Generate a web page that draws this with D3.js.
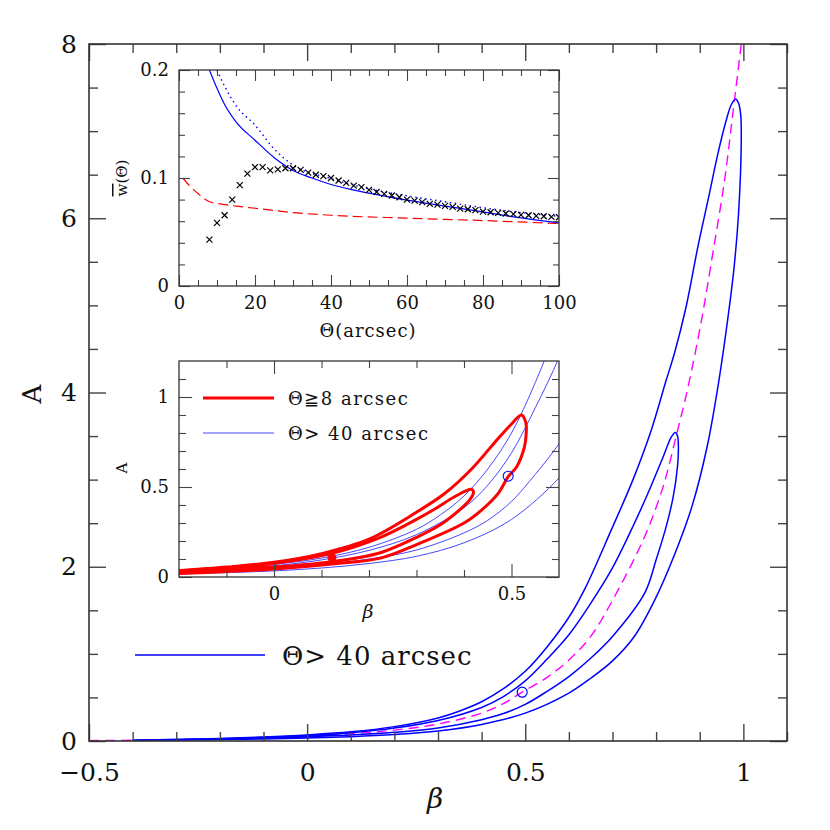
<!DOCTYPE html>
<html>
<head>
<meta charset="utf-8">
<script src="https://cdn.jsdelivr.net/npm/d3@7"></script>
<style>
body { margin: 0; background: #fff; }
text { font-family: "DejaVu Serif", serif; fill: #111; }
</style>
</head>
<body>
<div id="container"></div>
<script>
/* DATA */
// main panel: blue contours (Theta > 40 arcsec), [beta, A]
const outerUpper = [[-0.4,0.01],[-0.3,0.018],[-0.2,0.03],[-0.1,0.046],[0,0.07],[0.1,0.105],[0.2,0.165],[0.3,0.265],[0.35,0.345],[0.4,0.45],[0.45,0.6],[0.5,0.8],[0.55,1.08],[0.6,1.42],[0.636,1.74],[0.697,2.42],[0.747,3.0],[0.789,3.57],[0.823,4.14],[0.842,4.45],[0.869,4.99],[0.896,5.68],[0.919,6.21],[0.942,6.75],[0.961,7.13],[0.972,7.3],[0.982,7.37]];
const outerLower = [[0.989,7.32],[0.994,7.18],[0.995,6.82],[0.989,6.06],[0.979,5.45],[0.966,4.91],[0.944,4.14],[0.917,3.38],[0.882,2.69],[0.843,2.15],[0.797,1.62],[0.75,1.2],[0.7,0.92],[0.65,0.72],[0.6,0.55],[0.5,0.32],[0.4,0.19],[0.3,0.115],[0.2,0.075],[0.1,0.05],[0,0.034],[-0.1,0.024],[-0.2,0.017],[-0.3,0.012],[-0.4,0.01]];
const innerUpper = [[-0.4,0.01],[-0.3,0.016],[-0.2,0.026],[-0.1,0.04],[0,0.062],[0.1,0.095],[0.2,0.148],[0.3,0.235],[0.4,0.385],[0.45,0.51],[0.5,0.69],[0.55,0.94],[0.6,1.22],[0.65,1.58],[0.697,1.96],[0.739,2.38],[0.781,2.84],[0.816,3.26],[0.835,3.49],[0.844,3.54]];
const innerLower = [[0.849,3.5],[0.851,3.4],[0.849,3.15],[0.839,2.8],[0.823,2.46],[0.8,2.08],[0.774,1.7],[0.7,1.2],[0.65,0.95],[0.6,0.74],[0.55,0.57],[0.5,0.42],[0.45,0.315],[0.4,0.245],[0.3,0.15],[0.2,0.1],[0.1,0.068],[0,0.047],[-0.1,0.032],[-0.2,0.021],[-0.3,0.014],[-0.4,0.01]];
const centreLine = [[-0.5,0.004],[-0.4,0.009],[-0.3,0.015],[-0.2,0.024],[-0.1,0.037],[0,0.054],[0.1,0.082],[0.2,0.125],[0.3,0.195],[0.4,0.32],[0.45,0.43],[0.493,0.56],[0.55,0.73],[0.6,0.93],[0.65,1.2],[0.705,1.66],[0.774,2.35],[0.816,2.92],[0.846,3.5],[0.873,4.06],[0.904,4.83],[0.93,5.6],[0.957,6.44],[0.976,7.21],[0.995,7.99]];
const bestFit = [0.493, 0.56];

// lower inset: red contours (Theta >= 8 arcsec)
const redOuterUpper = [[-0.2,0.035],[-0.1,0.055],[0,0.082],[0.1,0.13],[0.2,0.21],[0.3,0.36],[0.36,0.465],[0.416,0.6],[0.472,0.77],[0.5,0.85],[0.521,0.9]];
const redOuterLower = [[0.53,0.86],[0.531,0.8],[0.527,0.72],[0.511,0.613],[0.493,0.557],[0.472,0.465],[0.437,0.372],[0.4,0.3],[0.3,0.18],[0.224,0.105],[0.122,0.072],[0,0.045],[-0.1,0.03],[-0.2,0.02]];
const redInnerUpper = [[-0.2,0.03],[-0.1,0.05],[0,0.075],[0.122,0.131],[0.224,0.22],[0.3,0.32],[0.342,0.383],[0.38,0.446],[0.416,0.487]];
const redInnerLower = [[0.42,0.47],[0.412,0.428],[0.395,0.383],[0.35,0.29],[0.3,0.22],[0.224,0.135],[0.122,0.085],[0,0.055],[-0.1,0.037],[-0.2,0.025]];
const redFit = [0.122, 0.107];

// upper inset: w(Theta)
const crossTheta = [8,10,12,14,16,18,20,22,24,26,28,30,32,34,36,38,40,42,44,46,48,50,52,54,56,58,60,62,64,66,68,70,72,74,76,78,80,82,84,86,88,90,92,94,96,98,100];
const crossW = [0.043,0.0584,0.0655,0.08,0.0934,0.104,0.11,0.11,0.107,0.108,0.109,0.109,0.1075,0.105,0.103,0.1017,0.1,0.0977,0.0955,0.093,0.0915,0.089,0.087,0.0853,0.0838,0.0822,0.08,0.079,0.0776,0.076,0.0754,0.0742,0.0733,0.0717,0.0711,0.0702,0.0689,0.0683,0.0677,0.0671,0.0665,0.0658,0.0655,0.0649,0.0646,0.064,0.0637];
const solidTheta = [8,10,12,15,20,25,30,35,40,50,60,70,80,90,100];
const solidW = [0.2,0.183,0.168,0.152,0.135,0.119,0.107,0.1,0.094,0.086,0.0795,0.074,0.0686,0.063,0.0584];
const dottedTheta = [10,12,15,20,25,30,40,50,60,70,80,90,100];
const dottedW = [0.2,0.185,0.167,0.149,0.127,0.112,0.0995,0.09,0.0835,0.078,0.0725,0.068,0.0645];
const dashTheta = [1,3,5,8,10,15,20,30,40,60,80,100];
const dashW = [0.1,0.092,0.0856,0.078,0.0765,0.074,0.072,0.068,0.0655,0.0628,0.0606,0.0578];

// ticks
const mainXMajor = [-0.5,0,0.5,1];
const mainXMinor = [-0.4,-0.3,-0.2,-0.1,0.1,0.2,0.3,0.4,0.6,0.7,0.8,0.9,1.1];
const mainYMajor = [0,2,4,6,8];
const mainYMinor = [0.5,1,1.5,2.5,3,3.5,4.5,5,5.5,6.5,7,7.5];
const topXMajor = [0,20,40,60,80,100];
const topXMinor = [5,10,15,25,30,35,45,50,55,65,70,75,85,90,95];
const topYMajor = [0,0.1,0.2];
const topYMinor = [0.02,0.04,0.06,0.08,0.12,0.14,0.16,0.18];
const lowXMajor = [0,0.5];
const lowXMinor = [-0.1,0.1,0.2,0.3,0.4];
const lowYMajor = [0,0.5,1];
const lowYMinor = [0.1,0.2,0.3,0.4,0.6,0.7,0.8,0.9,1.1];

/* LAYOUT */
const width = 830, height = 830;
const svg = d3.select("#container").append("svg")
  .attr("width", width).attr("height", height);

const xMain = d3.scaleLinear().domain([-0.5, 1.1]).range([89, 787]);
const yMain = d3.scaleLinear().domain([0, 8]).range([741, 44]);
const xTop = d3.scaleLinear().domain([0, 100]).range([179, 559]);
const yTop = d3.scaleLinear().domain([0, 0.2]).range([286, 70]);
const xLow = d3.scaleLinear().domain([-0.2, 0.6]).range([179, 559]);
const yLow = d3.scaleLinear().domain([0, 1.2]).range([577, 361]);

const fmt = d3.format("~g");

// frame + inward ticks on all four sides
function drawAxes(xs, ys, o) {
  const g = svg.append("g");
  const [x0, x1] = xs.range(), [y0, y1] = ys.range();
  const sides = [
    [d3.axisBottom, xs, `translate(0,${y0})`, o.xMajor, o.xMinor, true, o.padX],
    [d3.axisTop, xs, `translate(0,${y1})`, o.xMajor, o.xMinor, false, 0],
    [d3.axisLeft, ys, `translate(${x0},0)`, o.yMajor, o.yMinor, true, o.padY],
    [d3.axisRight, ys, `translate(${x1},0)`, o.yMajor, o.yMinor, false, 0]
  ];
  sides.forEach(([ax, sc, tr, major, minor, lab, pad]) => {
    g.append("g").attr("transform", tr)
      .call(ax(sc).tickValues(minor).tickSize(-o.minor).tickFormat(""));
    g.append("g").attr("transform", tr)
      .call(ax(sc).tickValues(major).tickSize(-o.major).tickPadding(pad)
        .tickFormat(lab ? fmt : ""));
  });
  g.selectAll(".domain").remove();
  g.selectAll(".tick line").attr("stroke", "#444").attr("stroke-width", o.tw);
  g.selectAll(".tick text").style("font-size", o.fs + "px")
    .style("font-family", '"DejaVu Serif", serif').attr("fill", "#111");
  g.append("rect").attr("x", x0).attr("y", y1)
    .attr("width", x1 - x0).attr("height", y0 - y1)
    .attr("fill", "none").attr("stroke", "#333").attr("stroke-width", o.bw);
}

function clip(id, xs, ys) {
  svg.append("clipPath").attr("id", id).append("rect")
    .attr("x", xs.range()[0]).attr("y", ys.range()[1])
    .attr("width", xs.range()[1] - xs.range()[0])
    .attr("height", ys.range()[0] - ys.range()[1]);
  return `url(#${id})`;
}

/* MAIN PANEL */
const lineMain = d3.line().x(d => xMain(d[0])).y(d => yMain(d[1]))
  .curve(d3.curveCatmullRom.alpha(0.5));
const gMain = svg.append("g").attr("clip-path", clip("cMain", xMain, yMain));

gMain.append("path").attr("d", lineMain(centreLine))
  .attr("fill", "none").attr("stroke", "#ff00ff").attr("stroke-width", 1.4)
  .attr("stroke-dasharray", "10,6");
[outerUpper.concat(outerLower), innerUpper.concat(innerLower)].forEach(loop => {
  gMain.append("path").attr("d", lineMain(loop))
    .attr("fill", "none").attr("stroke", "#0000ff").attr("stroke-width", 1.5);
});
gMain.append("circle").attr("cx", xMain(bestFit[0])).attr("cy", yMain(bestFit[1]))
  .attr("r", 5).attr("fill", "none").attr("stroke", "#0000ff").attr("stroke-width", 1.2);

drawAxes(xMain, yMain, { xMajor: mainXMajor, xMinor: mainXMinor, yMajor: mainYMajor, yMinor: mainYMinor,
  major: 17, minor: 9, padX: 22, padY: 12, fs: 25, tw: 1.4, bw: 1.6 });

svg.append("text").attr("transform", "translate(41,394) rotate(-90)")
  .attr("text-anchor", "middle").style("font-size", "26px").text("A");
svg.append("text").attr("x", 435).attr("y", 808).attr("text-anchor", "middle")
  .style("font-size", "28px").style("font-style", "italic").text("β");

// main legend
svg.append("line").attr("x1", 135).attr("x2", 265).attr("y1", 655).attr("y2", 655)
  .attr("stroke", "#0000ff").attr("stroke-width", 1.5);
svg.append("text").attr("x", 282).attr("y", 665).style("font-size", "26px")
  .style("letter-spacing", "1px").text("Θ> 40 arcsec");

/* UPPER INSET */
svg.append("rect").attr("x", 179).attr("y", 70).attr("width", 380).attr("height", 216).attr("fill", "#fff");
const gTop = svg.append("g").attr("clip-path", clip("cTop", xTop, yTop));
const lineTop = d3.line().x(d => xTop(d[0])).y(d => yTop(d[1])).curve(d3.curveMonotoneX);

gTop.append("path").attr("d", lineTop(dashTheta.map((t, i) => [t, dashW[i]])))
  .attr("fill", "none").attr("stroke", "#ff0000").attr("stroke-width", 1.2)
  .attr("stroke-dasharray", "10,5");
gTop.append("path").attr("d", lineTop(solidTheta.map((t, i) => [t, solidW[i]])))
  .attr("fill", "none").attr("stroke", "#0000ff").attr("stroke-width", 1.2);
gTop.append("path").attr("d", lineTop(dottedTheta.map((t, i) => [t, dottedW[i]])))
  .attr("fill", "none").attr("stroke", "#0000ff").attr("stroke-width", 1.4)
  .attr("stroke-dasharray", "1.5,3.5");
gTop.selectAll("path.cross").data(crossTheta.map((t, i) => [t, crossW[i]]))
  .enter().append("path").attr("class", "cross")
  .attr("d", d => {
    const cx = xTop(d[0]), cy = yTop(d[1]), s = 3;
    return `M${cx - s},${cy - s}L${cx + s},${cy + s}M${cx - s},${cy + s}L${cx + s},${cy - s}`;
  })
  .attr("stroke", "#000").attr("stroke-width", 1.2);

drawAxes(xTop, yTop, { xMajor: topXMajor, xMinor: topXMinor, yMajor: topYMajor, yMinor: topYMinor,
  major: 11, minor: 6, padX: 10, padY: 10, fs: 18, tw: 1.1, bw: 1.3 });

svg.append("text").attr("x", 368).attr("y", 337).attr("text-anchor", "middle")
  .style("font-size", "18px").style("letter-spacing", "1px").text("Θ(arcsec)");
const wl = svg.append("text").attr("transform", "translate(127,178) rotate(-90)")
  .attr("text-anchor", "middle").style("font-size", "15px");
wl.append("tspan").style("text-decoration", "overline").text("w");
wl.append("tspan").text("(Θ)");

/* LOWER INSET */
svg.append("rect").attr("x", 179).attr("y", 361).attr("width", 380).attr("height", 216).attr("fill", "#fff");
const gLow = svg.append("g").attr("clip-path", clip("cLow", xLow, yLow));
const lineLow = d3.line().x(d => xLow(d[0])).y(d => yLow(d[1]))
  .curve(d3.curveCatmullRom.alpha(0.5));

[outerUpper.concat(outerLower), innerUpper.concat(innerLower)].forEach(loop => {
  gLow.append("path").attr("d", lineLow(loop))
    .attr("fill", "none").attr("stroke", "#3333ff").attr("stroke-width", 0.9);
});
[redOuterUpper.concat(redOuterLower), redInnerUpper.concat(redInnerLower)].forEach(loop => {
  gLow.append("path").attr("d", lineLow(loop))
    .attr("fill", "none").attr("stroke", "#ff0000").attr("stroke-width", 3);
});
gLow.append("circle").attr("cx", xLow(bestFit[0])).attr("cy", yLow(bestFit[1]))
  .attr("r", 5).attr("fill", "none").attr("stroke", "#0000ff").attr("stroke-width", 1.1);
gLow.append("circle").attr("cx", xLow(redFit[0])).attr("cy", yLow(redFit[1]))
  .attr("r", 4.5).attr("fill", "#ff0000");

drawAxes(xLow, yLow, { xMajor: lowXMajor, xMinor: lowXMinor, yMajor: lowYMajor, yMinor: lowYMinor,
  major: 13, minor: 7, padX: 10, padY: 10, fs: 18, tw: 1.1, bw: 1.3 });

svg.append("text").attr("x", 368).attr("y", 618).attr("text-anchor", "middle")
  .style("font-size", "19px").style("font-style", "italic").text("β");
svg.append("text").attr("transform", "translate(127,468) rotate(-90)")
  .attr("text-anchor", "middle").style("font-size", "15px").text("A");

// inset legend
svg.append("line").attr("x1", 203).attr("x2", 274).attr("y1", 398).attr("y2", 398)
  .attr("stroke", "#ff0000").attr("stroke-width", 3);
svg.append("text").attr("x", 288).attr("y", 405).style("font-size", "18px")
  .style("letter-spacing", "1.5px").text("Θ≧8 arcsec");
svg.append("line").attr("x1", 203).attr("x2", 274).attr("y1", 433).attr("y2", 433)
  .attr("stroke", "#3333ff").attr("stroke-width", 0.9);
svg.append("text").attr("x", 288).attr("y", 440).style("font-size", "18px")
  .style("letter-spacing", "1.5px").text("Θ> 40 arcsec");
</script>
</body>
</html>
